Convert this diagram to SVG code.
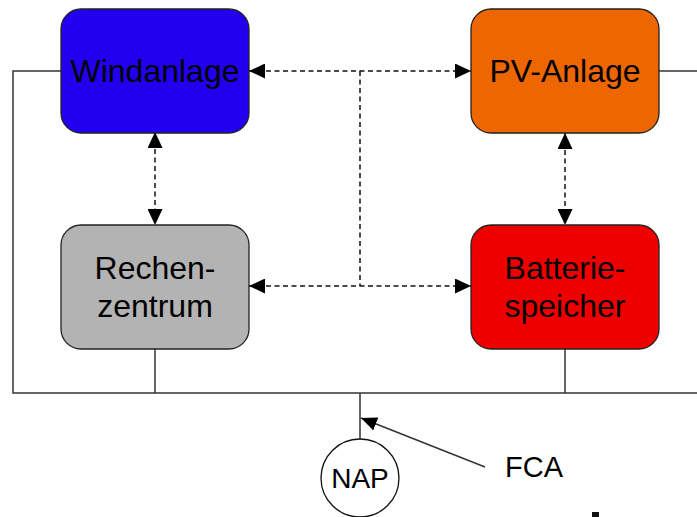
<svg xmlns="http://www.w3.org/2000/svg" width="697" height="517" viewBox="0 0 697 517">
<defs>
<style>
.box{stroke:#222;stroke-width:1.3}
.lbl{font-family:"Liberation Sans",Arial,sans-serif;font-size:32px;fill:#000;text-anchor:middle}
.line{fill:none;stroke:#333;stroke-width:1.5}
.dash{fill:none;stroke:#111;stroke-width:1.5;stroke-dasharray:5 3.5}
</style>
<marker id="ah" viewBox="0 0 16 15" refX="16" refY="7.5" markerWidth="16" markerHeight="15" markerUnits="userSpaceOnUse" orient="auto-start-reverse">
<path d="M0,0 L16,7.5 L0,15 Z" fill="#000"/>
</marker>
<marker id="ah2" viewBox="0 0 16 14" refX="16" refY="7" markerWidth="16" markerHeight="14" markerUnits="userSpaceOnUse" orient="auto">
<path d="M0,0 L16,7 L0,14 Z" fill="#000"/>
</marker>
</defs>
<rect width="697" height="517" fill="#fff"/>
<g id="connectors">
<polyline class="line" points="61,71 13,71 13,393 697,393"/>
<line class="line" x1="659" y1="71" x2="697" y2="71"/>
<line class="line" x1="155" y1="349" x2="155" y2="393"/>
<line class="line" x1="565" y1="349" x2="565" y2="393"/>
<line class="line" x1="360" y1="393" x2="360" y2="439"/>
<line class="line" x1="485" y1="467" x2="361" y2="418" marker-end="url(#ah2)"/>
<line class="dash" x1="249" y1="71" x2="471" y2="71" marker-start="url(#ah)" marker-end="url(#ah)"/>
<line class="dash" x1="249" y1="286" x2="471" y2="286" marker-start="url(#ah)" marker-end="url(#ah)"/>
<line class="dash" x1="360" y1="71" x2="360" y2="286"/>
<line class="dash" x1="155" y1="132" x2="155" y2="225" marker-start="url(#ah)" marker-end="url(#ah)"/>
<line class="dash" x1="565" y1="133" x2="565" y2="225" marker-start="url(#ah)" marker-end="url(#ah)"/>
</g>
<g id="windanlage">
<rect class="box" x="61" y="9" width="188" height="124" rx="20" fill="#2200EE"/>
<text class="lbl" x="155" y="82">Windanlage</text>
</g>
<g id="pv-anlage">
<rect class="box" x="471" y="9" width="188" height="124" rx="20" fill="#EE6600"/>
<text class="lbl" x="565" y="82">PV-Anlage</text>
</g>
<g id="rechenzentrum">
<rect class="box" x="61" y="225" width="188" height="124" rx="20" fill="#B3B3B3"/>
<text class="lbl" x="155" y="279">Rechen-</text>
<text class="lbl" x="155" y="317">zentrum</text>
</g>
<g id="batteriespeicher">
<rect class="box" x="471" y="225" width="188" height="124" rx="20" fill="#EE0000"/>
<text class="lbl" x="565" y="279">Batterie-</text>
<text class="lbl" x="565" y="317">speicher</text>
</g>
<g id="nap">
<circle cx="360" cy="478" r="39" fill="#fff" stroke="#111" stroke-width="1.3"/>
<text class="lbl" x="360" y="488" style="font-size:28px">NAP</text>
</g>
<g id="fca">
<text class="lbl" x="534" y="477" style="font-size:29px">FCA</text>
</g>
<rect x="592" y="512" width="7" height="5" fill="#111"/>
</svg>
